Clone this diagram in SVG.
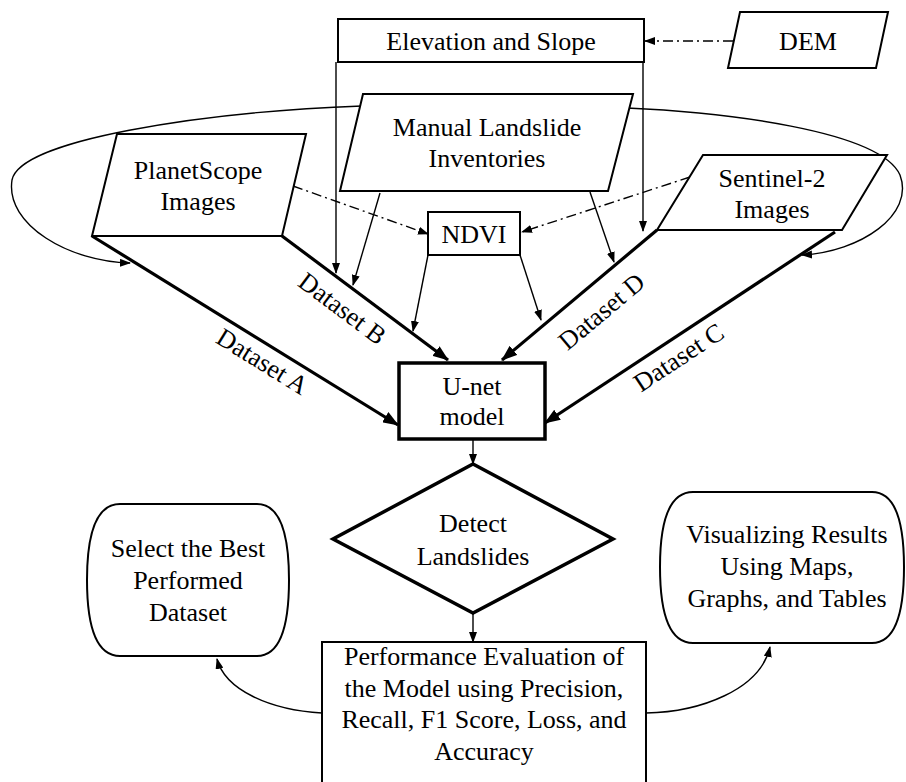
<svg xmlns="http://www.w3.org/2000/svg" width="906" height="782" viewBox="0 0 906 782">
<style>
text{font-family:"Liberation Serif","Times New Roman",serif;font-size:26px;fill:#000;text-anchor:middle}
.n{fill:#fff;stroke:#000;stroke-width:2}
.nb{fill:#fff;stroke:#000;stroke-width:3.5}
.c{fill:none;stroke:#000;stroke-width:1.4}
.t{fill:none;stroke:#000;stroke-width:3.2}
.d{fill:none;stroke:#000;stroke-width:1.4;stroke-dasharray:10 4 2 4}
</style>
<defs>
<marker id="ah" markerUnits="userSpaceOnUse" markerWidth="11" markerHeight="8" refX="10" refY="4" orient="auto"><path d="M0,0 L11,4 L0,8 z" fill="#000"/></marker>
<marker id="ahb" markerUnits="userSpaceOnUse" markerWidth="16" markerHeight="12" refX="15" refY="6" orient="auto"><path d="M0,0 L16,6 L0,12 z" fill="#000"/></marker>
</defs>
<g id="connectors">
<path class="c" d="M362,106 C 200,112 20,140 12,180 C 5,225 70,262 130,263" marker-end="url(#ah)"/>
<path class="c" d="M627,108 C 720,112 880,130 900,175 C 915,215 860,252 802,255" marker-end="url(#ah)"/>
<line class="d" x1="733" y1="41" x2="645" y2="41" marker-end="url(#ah)"/>
<line class="d" x1="293" y1="186" x2="428" y2="234" marker-end="url(#ah)"/>
<line class="d" x1="690" y1="177" x2="522" y2="232" marker-end="url(#ah)"/>
<line class="c" x1="336" y1="62" x2="336" y2="273" marker-end="url(#ah)"/>
<line class="c" x1="643" y1="62" x2="643" y2="231" marker-end="url(#ah)"/>
<line class="c" x1="380" y1="193" x2="353" y2="285" marker-end="url(#ah)"/>
<line class="c" x1="590" y1="192" x2="614" y2="262" marker-end="url(#ah)"/>
<line class="c" x1="428" y1="255" x2="413" y2="331" marker-end="url(#ah)"/>
<line class="c" x1="520" y1="255" x2="541" y2="320" marker-end="url(#ah)"/>
<line class="t" x1="92" y1="236" x2="398" y2="425" marker-end="url(#ahb)"/>
<line class="t" x1="282" y1="236" x2="448" y2="360" marker-end="url(#ahb)"/>
<line class="t" x1="657" y1="230" x2="502" y2="360" marker-end="url(#ahb)"/>
<line class="t" x1="835" y1="232" x2="545" y2="423" marker-end="url(#ahb)"/>
<line class="c" x1="473" y1="439" x2="473" y2="464" marker-end="url(#ah)"/>
<line class="c" x1="473" y1="613" x2="473" y2="642" marker-end="url(#ah)"/>
<path class="c" d="M322,713 C 270,710 225,690 217,659" marker-end="url(#ah)"/>
<path class="c" d="M646,713 C 700,712 760,690 770,647" marker-end="url(#ah)"/>
<text transform="translate(262,362) rotate(31.7)" y="8">Dataset A</text>
<text transform="translate(342,309) rotate(36.8)" y="8">Dataset B</text>
<text transform="translate(679,358) rotate(-33.4)" y="8">Dataset C</text>
<text transform="translate(602,312) rotate(-40)" y="8">Dataset D</text>
</g>
<g id="elevation"><rect class="n" x="338" y="19" width="306" height="43"/><text x="491" y="50">Elevation and Slope</text></g>
<g id="dem"><polygon class="n" points="740,12 888,12 876,68 728,68"/><text x="808" y="50">DEM</text></g>
<g id="manual"><polygon class="n" points="363,94 633,94 608,191 340,191"/><text x="487" y="136">Manual Landslide</text><text x="487" y="167">Inventories</text></g>
<g id="planetscope"><polygon class="n" points="117,134 306,134 282,236 92,236"/><text x="198" y="179">PlanetScope</text><text x="198" y="210">Images</text></g>
<g id="sentinel"><polygon class="n" points="703,155 887,155 842,230 657,230"/><text x="772" y="187">Sentinel-2</text><text x="772" y="218">Images</text></g>
<g id="ndvi"><rect class="n" x="428" y="212" width="92" height="43"/><text x="474" y="243">NDVI</text></g>
<g id="unet"><rect class="nb" x="399" y="363" width="146" height="76"/><text x="472" y="395">U-net</text><text x="472" y="425">model</text></g>
<g id="detect"><polygon class="nb" points="473,464 613,539 473,613 333,539"/><text x="473" y="532">Detect</text><text x="473" y="565">Landslides</text></g>
<g id="evaluation"><rect class="n" x="322" y="642" width="324" height="150"/><text x="484" y="665">Performance Evaluation of</text><text x="484" y="697">the Model using Precision,</text><text x="484" y="728">Recall, F1 Score, Loss, and</text><text x="484" y="760">Accuracy</text></g>
<g id="select"><path class="n" d="M120,504 L257,504 Q289,504 289,580 Q289,656 257,656 L120,656 Q87,656 87,580 Q87,504 120,504 Z"/><text x="188" y="557">Select the Best</text><text x="188" y="589">Performed</text><text x="188" y="621">Dataset</text></g>
<g id="visualizing"><path class="n" d="M693,492 L872,492 Q904,492 904,567 Q904,643 872,643 L693,643 Q660,643 660,567 Q660,492 693,492 Z"/><text x="787" y="543">Visualizing Results</text><text x="787" y="575">Using Maps,</text><text x="787" y="607">Graphs, and Tables</text></g>
</svg>
